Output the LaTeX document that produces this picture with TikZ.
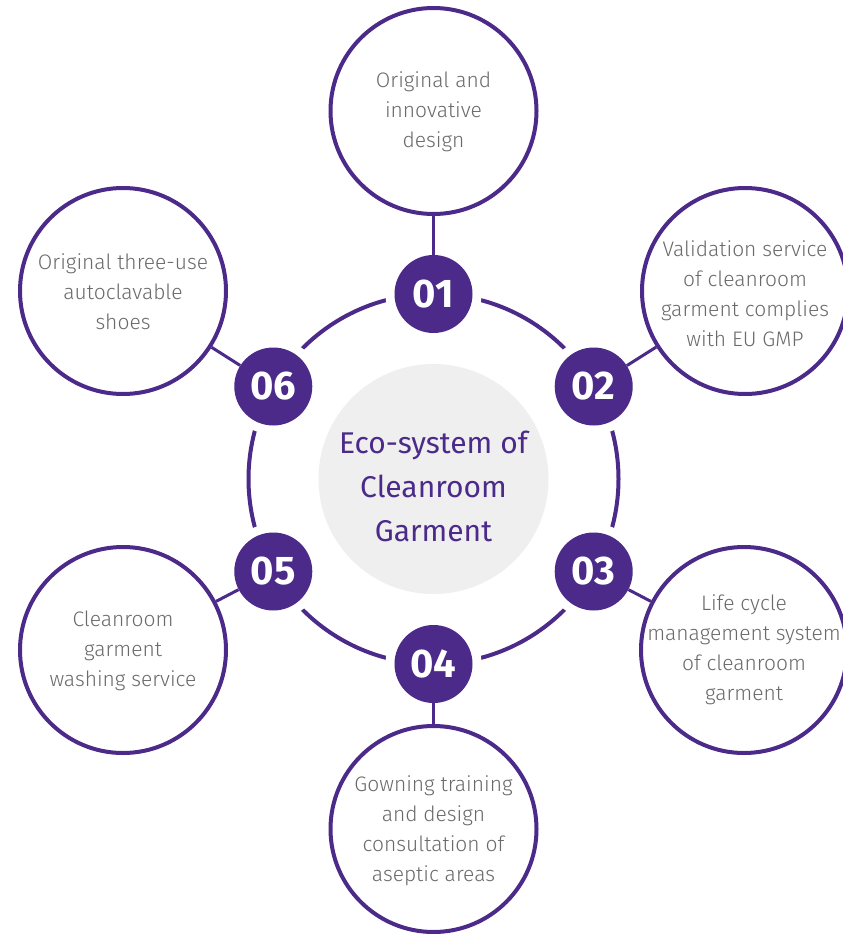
\documentclass[tikz,border=0pt]{standalone}
\usepackage{fontspec}
\usetikzlibrary{calc}
\setmainfont{Fira Sans}
\newfontfamily\lightfont{Fira Sans Light}
\definecolor{purp}{HTML}{4B2A89}
\definecolor{txtgray}{HTML}{6A6A6A}
\definecolor{centergray}{HTML}{EFEFEF}
\tikzset{
  outer/.style={circle, draw=purp, line width=4pt, minimum size=206pt, inner sep=0pt},
  numc/.style={circle, fill=purp, minimum size=78pt, inner sep=0pt, text=white,
    font=\fontsize{40}{40}\selectfont\bfseries},
  txt/.style={align=center, text=txtgray, inner sep=0pt, font=\lightfont\fontsize{21}{30}\selectfont},
  conn/.style={draw=purp, line width=3pt},
  gapdisk/.style={circle, fill=white, minimum size=96pt, inner sep=0pt}
}
\begin{document}
\begin{tikzpicture}[x=1pt,y=-1pt]
\useasboundingbox (0,0) rectangle (843,934);
\fill[white] (0,0) rectangle (843,934);
% center
\node[circle, fill=centergray, minimum size=230pt, inner sep=0pt, text=purp,
  align=center, font=\fontsize{30}{44}\selectfont] (c) at (433.5,479) {};
\node[text=purp, align=center, inner sep=0pt, font=\fontsize{30}{44}\selectfont] (ct) at (433.5,486)
  {Eco-system of\\Cleanroom\\Garment};
% ring
\draw[purp, line width=4pt] (c.center) circle[radius=185pt];
% gap disks
\foreach \a [count=\i] in {90,30,-30,-90,-150,150}{
  \node[gapdisk] (g\i) at ($(433.5,479)+(\a:185 and -185)$) {};
}
% outer circles
\node[outer] (o1) at (433.5,111) {};
\node[outer] (o2) at (745,291) {};
\node[outer] (o3) at (744,650) {};
\node[outer] (o4) at (433.5,829) {};
\node[outer] (o5) at (123,650) {};
\node[outer] (o6) at (123,291) {};
% texts
\node[txt] (t1) at (433.5,112) {Original and\\innovative\\design};
\node[txt] (t2) at (745,294) {Validation service\\of cleanroom\\garment complies\\with EU GMP};
\node[txt] (t3) at (744,650) {Life cycle\\management system\\of cleanroom\\garment};
\node[txt] (t4) at (433.5,831) {Gowning training\\and design\\consultation of\\aseptic areas};
\node[txt] (t5) at (123,651) {Cleanroom\\garment\\washing service};
\node[txt] (t6) at (123,292) {Original three-use\\autoclavable\\shoes};
% number circles
\node[numc] (n1) at (g1) {01};
\node[numc] (n2) at (g2) {02};
\node[numc] (n3) at (g3) {03};
\node[numc] (n4) at (g4) {04};
\node[numc] (n5) at (g5) {05};
\node[numc] (n6) at (g6) {06};
% connectors
\foreach \i in {1,...,6}{
  \draw[conn] (n\i) -- (o\i);
}
\end{tikzpicture}
\end{document}
